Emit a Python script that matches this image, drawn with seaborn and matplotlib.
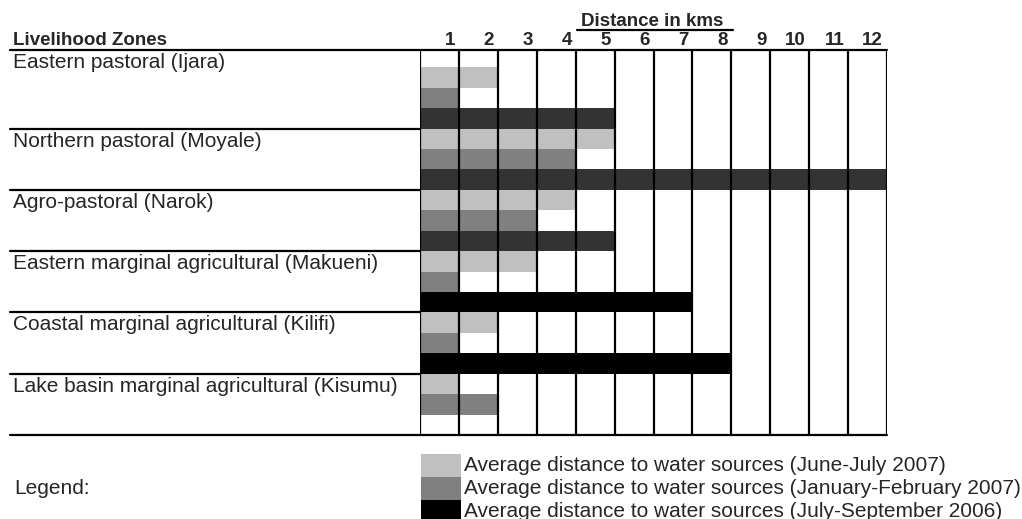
import pandas as pd
import numpy as np
import matplotlib
matplotlib.use('Agg')
import matplotlib.pyplot as plt
from matplotlib.patches import Rectangle
import seaborn as sns

# 1. data (distance in km per livelihood zone)
zones = ['Eastern pastoral (Ijara)',
         'Northern pastoral (Moyale)',
         'Agro-pastoral (Narok)',
         'Eastern marginal agricultural (Makueni)',
         'Coastal marginal agricultural (Kilifi)',
         'Lake basin marginal agricultural (Kisumu)']
june_july_2007 = [2, 5, 4, 3, 2, 1]
jan_feb_2007 = [1, 4, 3, 1, 1, 2]
jul_sep_2006 = [5, 12, 5, 7, 8, 0]
# the 2006 bars are dark grey for the pastoral zones, solid black for the others
shade_2006 = ['dark', 'dark', 'dark', 'black', 'black', 'black']
km_ticks = list(range(1, 13))
legend_labels = ['Average distance to water sources (June-July 2007)',
                 'Average distance to water sources (January-February 2007)',
                 'Average distance to water sources (July-September 2006)']

palette = {'light': '#c0c0c0', 'mid': '#808080', 'dark': '#333333', 'black': '#000000'}
legend_shades = ['light', 'mid', 'black']

# 2. layout: each zone takes 3 sub-rows, the first zone has a short blank row on top
blank_top = 0.85
zone_start = []
row = 0.0
for i in range(len(zones)):
    zone_start.append(row)
    row += 3 + (blank_top if i == 0 else 0)
n_rows = row
bar_offset = [blank_top] + [0] * (len(zones) - 1)

records = []
for i in range(len(zones)):
    series = [(june_july_2007[i], 'light'), (jan_feb_2007[i], 'mid'), (jul_sep_2006[i], shade_2006[i])]
    for j, (val, shade) in enumerate(series):
        if val > 0:
            records.append({'zone': zones[i], 'km': val, 'shade': shade,
                            'pos': zone_start[i] + bar_offset[i] + j + 0.5})
df = pd.DataFrame(records)

# 3. figure
sns.set_theme(style='white')
plt.rcParams['font.family'] = ['Liberation Sans', 'DejaVu Sans']

W, H = 1022, 519
fig = plt.figure(figsize=(W / 100, H / 100), dpi=100)
gx0, gx1, gy0, gy1 = 420, 887, 50, 435
ax = fig.add_axes([gx0 / W, 1 - gy1 / H, (gx1 - gx0) / W, (gy1 - gy0) / H])

sns.barplot(data=df, x='km', y='pos', hue='shade', palette=palette, orient='h',
            native_scale=True, width=1, dodge=False, errorbar=None, legend=False,
            saturation=1, linewidth=0, ax=ax)

ax.set_xlim(0, 12)
ax.set_ylim(n_rows, 0)
ax.set_xticks([])
ax.set_yticks([])
ax.set_xlabel('')
ax.set_ylabel('')
for s in ax.spines.values():
    s.set_visible(False)

px_x = (gx1 - gx0) / 12.0          # pixels per km column
px_y = (gy1 - gy0) / float(n_rows)  # pixels per sub-row
x_left = -(gx0 - 10) / px_x
x_text = -(gx0 - 13) / px_x

# grid of km columns
ax.vlines(range(13), 0, n_rows, colors='black', lw=1.6, zorder=4)

# horizontal rules
ax.plot([x_left, 12], [0, 0], color='black', lw=1.6, clip_on=False, zorder=4)
ax.plot([x_left, 12], [n_rows, n_rows], color='black', lw=1.6, clip_on=False, zorder=4)
for st in zone_start[1:]:
    ax.plot([x_left, 0], [st, st], color='black', lw=1.6, clip_on=False, zorder=4)

# zone labels
for i, z in enumerate(zones):
    ax.text(x_text, zone_start[i] + 18 / px_y, z, fontsize=15, ha='left', va='baseline',
            clip_on=False)

# header
hdr_y = -5 / px_y
ax.text(x_text, hdr_y, 'Livelihood Zones', fontsize=13.5, fontweight='bold',
        ha='left', va='baseline', clip_on=False)
for k in km_ticks:
    ax.text(k - 0.1, hdr_y, str(k), fontsize=13.5, fontweight='bold',
            ha='right', va='baseline', clip_on=False)
ax.text(5.97, -24 / px_y, 'Distance in kms', fontsize=13.5, fontweight='bold',
        ha='center', va='baseline', clip_on=False)
ax.plot([4.03, 8.03], [-20 / px_y, -20 / px_y], color='black', lw=1.6, clip_on=False)

# legend
leg_top = (454 - gy0) / px_y
leg_h = 23 / px_y
for j, (lab, shade) in enumerate(zip(legend_labels, legend_shades)):
    y0 = leg_top + j * leg_h
    ax.add_patch(Rectangle((0.03, y0), 40 / px_x, leg_h, facecolor=palette[shade],
                           edgecolor='none', clip_on=False))
    ax.text(44 / px_x, y0 + leg_h / 2, lab, fontsize=15, ha='left', va='center',
            clip_on=False)
ax.text(-(gx0 - 14) / px_x, (489 - gy0) / px_y, 'Legend:', fontsize=15,
        ha='left', va='center', clip_on=False)

fig.savefig('out.png', dpi=100)
